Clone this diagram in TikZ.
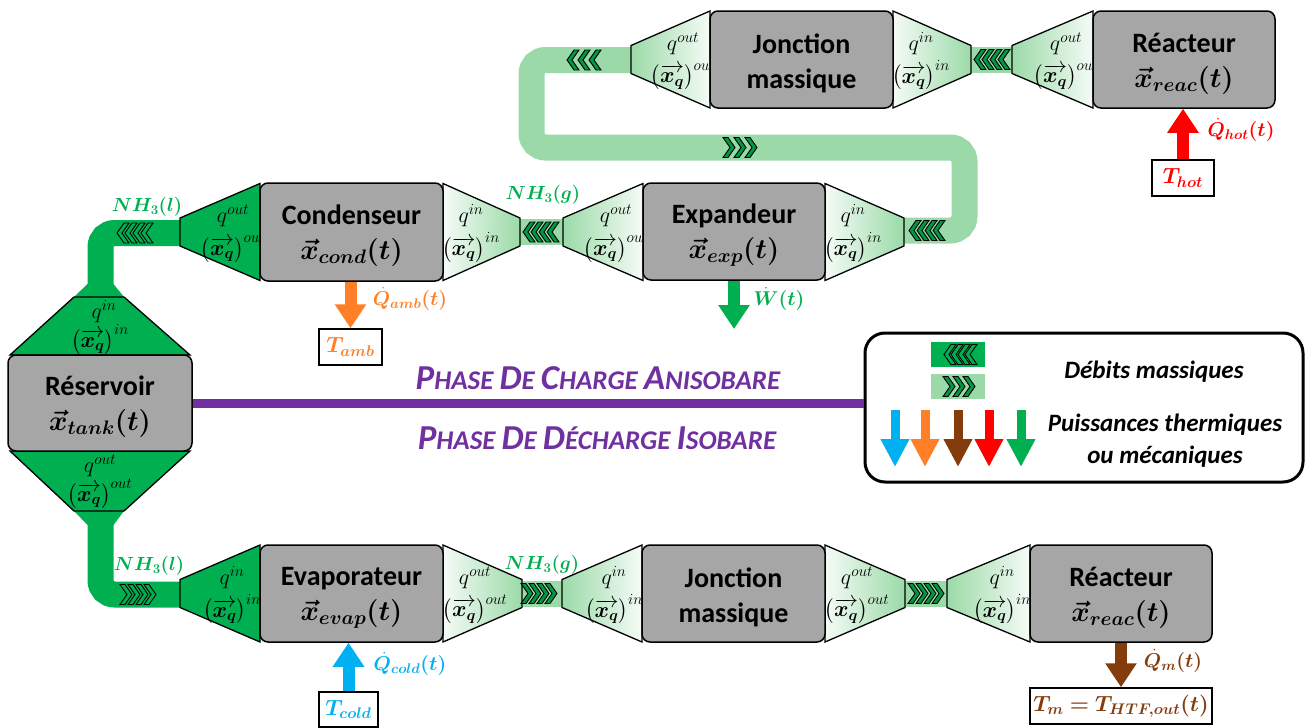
\RequirePackage{fix-cm}
\documentclass[tikz,border=0pt]{standalone}
\usepackage{amsmath}
\usepackage{bm}
\usepackage{fontspec}
\setmainfont{Carlito}
\usetikzlibrary{arrows.meta}
\definecolor{G}{RGB}{0,176,80}
\definecolor{LG}{RGB}{155,218,168}
\definecolor{boxgray}{RGB}{166,166,166}
\definecolor{Org}{RGB}{255,127,39}
\definecolor{Blu}{RGB}{0,176,240}
\definecolor{Brn}{RGB}{132,60,12}
\definecolor{Rd}{RGB}{255,0,0}
\definecolor{Pur}{RGB}{112,48,160}
\tikzset{
  box/.style={draw=black, line width=1.5pt, fill=boxgray, rounded corners=8pt, inner sep=0pt, align=center, font=\fontsize{28}{35}\selectfont\bfseries},
  tbox/.style={draw=black, line width=1.5pt, fill=white, inner sep=0pt},
  pipeD/.style={draw=G, line width=26pt, rounded corners=14pt},
  pipeL/.style={draw=LG, line width=26pt, rounded corners=14pt},
  trapD/.style={fill=G, draw=black, line width=1.3pt},
  trapLn/.style={left color=LG, right color=LG!10!white, draw=black, line width=1.3pt},
  trapRn/.style={left color=LG!10!white, right color=LG, draw=black, line width=1.3pt},
  chevL/.style={fill=G!85!black, draw=black, line width=0.9pt},
  chevD/.style={fill=G, draw=black, line width=0.9pt},
  fat/.style={line width=12pt, -{Triangle[width=30pt,length=24pt]}},
  legarrow/.style={line width=9pt, -{Triangle[width=27pt,length=28pt]}},
  qlab/.style={font=\fontsize{22}{24}\selectfont, inner sep=0pt},
  flow/.style={font=\fontsize{19}{22}\selectfont, inner sep=0pt, text=G},
  powlab/.style={font=\fontsize{20}{22}\selectfont, inner sep=0pt},
  tlab/.style={font=\fontsize{22}{24}\selectfont},
}
% trapezoid: narrow x, wide x, centre y, style
\newcommand\trap[4]{\path[#4] (#1,{#3-14}) -- (#2,{#3-48.5}) -- (#2,{#3+48.5}) -- (#1,{#3+14}) -- cycle;}
% chevrons: x tip, y, count, dir (1 = <, -1 = >), spacing, style
\newcommand\chevs[6]{%
  \begin{scope}[shift={(#1,#2)},xscale=#4]
  \foreach \i in {1,...,#3}{\path[#6] ({(\i-1)*#5},0) -- ++(7,-10) -- ++(5,0) -- ++(-7,10) -- ++(7,10) -- ++(-5,0) -- cycle;}
  \end{scope}}
% trapezoid labels: name, x, y centre, superscript
\newcommand\tlabel[4]{%
  \node[qlab] (#1q) at (#2,{#3-16}) {$q^{#4}$};
  \node[qlab] (#1x) at (#2,{#3+16}) {$\big(\overrightarrow{\bm{x_q}}\big)^{#4}$};}
\newcommand\bs[2]{{\fontsize{35}{35}\selectfont #1}#2}
\newcommand\st{\rule{0pt}{27pt}}
\begin{document}
\begin{tikzpicture}[x=1pt,y=-1pt]
\useasboundingbox (0,0) rectangle (1310,728);
% ---------- pipes
\draw[pipeL] (903,230.5) -- (964.5,230.5) -- (964.5,147.5) -- (531.5,147.5) -- (531.5,60) -- (632,60);
\draw[pipeL, rounded corners=0pt] (970,59.5) -- (1013,59.5);
\draw[pipeL, rounded corners=0pt] (519,232) -- (564,232);
\draw[pipeL, rounded corners=0pt] (521,593.5) -- (563,593.5);
\draw[pipeL, rounded corners=0pt] (904,593.5) -- (948,593.5);
\draw[pipeD] (181,233) -- (100.5,233) -- (100.5,290);
\draw[pipeD] (100.5,505) -- (100.5,594.5) -- (181,594.5);
\fill[G] (87.5,284) -- (113.5,284) -- (124,297) -- (74,297) -- cycle;
\fill[G] (74,511) -- (124,511) -- (113.5,525) -- (87.5,525) -- cycle;
% ---------- reservoir trapezoids
\path[trapD] (74,297) -- (124,297) -- (190,355) -- (10,355) -- cycle;
\path[trapD] (10,451) -- (190,451) -- (124,511) -- (74,511) -- cycle;
% ---------- trapezoids
\trap{631}{710}{59.5}{trapLn}
\trap{971}{893}{59.5}{trapRn}
\trap{1012}{1093}{59.5}{trapLn}
\trap{180}{260}{232}{trapD}
\trap{520}{443}{232}{trapRn}
\trap{563}{643}{232}{trapLn}
\trap{904}{825}{232}{trapRn}
\trap{180}{260}{593.5}{trapD}
\trap{522}{443}{593.5}{trapRn}
\trap{562}{642}{593.5}{trapLn}
\trap{905}{825}{593.5}{trapRn}
\trap{947}{1030}{593.5}{trapLn}
% ---------- trapezoid labels
\tlabel{la}{683}{59.5}{out}
\tlabel{lb}{921}{59.5}{in}
\tlabel{lc}{1066}{59.5}{out}
\tlabel{ld}{233}{232}{out}
\tlabel{le}{471}{232}{in}
\tlabel{lf}{616}{232}{out}
\tlabel{lg}{853}{232}{in}
\tlabel{lh}{232}{593.5}{in}
\tlabel{li}{475}{593.5}{out}
\tlabel{lj}{614}{593.5}{in}
\tlabel{lk}{857}{593.5}{out}
\tlabel{ll}{1002}{593.5}{in}
\node[qlab] (rtq) at (104,312) {$q^{in}$};
\node[qlab] (rtx) at (100,340) {$\big(\overrightarrow{\bm{x_q}}\big)^{in}$};
\node[qlab] (rbq) at (100,466) {$q^{out}$};
\node[qlab] (rbx) at (100,494) {$\big(\overrightarrow{\bm{x_q}}\big)^{out}$};
% ---------- boxes
\node[box, minimum width=182pt, minimum height=97pt] (reacT) at (1184,59.5) {\st Réacteur\\$\bm{\vec{x}_{reac}(t)}$};
\node[box, minimum width=183pt, minimum height=97pt] (juncT) at (801.5,59.5) {\st Jonction\\massique};
\node[box, minimum width=183pt, minimum height=98pt] (cond) at (351.5,232) {\st Condenseur\\$\bm{\vec{x}_{cond}(t)}$};
\node[box, minimum width=182pt, minimum height=97pt] (exp) at (734,231.5) {\st Expandeur\\$\bm{\vec{x}_{exp}(t)}$};
\node[box, minimum width=184pt, minimum height=96pt] (res) at (100,403) {\st Réservoir\\$\bm{\vec{x}_{tank}(t)}$};
\node[box, minimum width=183pt, minimum height=97pt] (evap) at (351.5,593.5) {\st Evaporateur\\$\bm{\vec{x}_{evap}(t)}$};
\node[box, minimum width=183pt, minimum height=97pt] (juncB) at (733.5,593.5) {\st Jonction\\massique};
\node[box, minimum width=182pt, minimum height=97pt] (reacB) at (1121,593.5) {\st Réacteur\\$\bm{\vec{x}_{reac}(t)}$};
% ---------- chevrons
\chevs{567}{60}{3}{1}{11}{chevL}
\chevs{757}{147.5}{3}{-1}{11}{chevL}
\chevs{974}{59.5}{4}{1}{8}{chevL}
\chevs{523}{232}{4}{1}{8}{chevL}
\chevs{909}{230.5}{4}{1}{8}{chevL}
\chevs{117}{233}{4}{1}{8}{chevD}
\chevs{156}{594.5}{4}{-1}{8}{chevD}
\chevs{557}{593.5}{4}{-1}{8}{chevL}
\chevs{944}{593.5}{4}{-1}{8}{chevL}
% ---------- flow labels
\node[flow] (nh1) at (147,207) {$\bm{NH_3(l)}$};
\node[flow] (nh2) at (543,195) {$\bm{NH_3(g)}$};
\node[flow] (nh3) at (149,566) {$\bm{NH_3(l)}$};
\node[flow] (nh4) at (542,565) {$\bm{NH_3(g)}$};
% ---------- temperature boxes
\node[tbox, minimum width=62pt, minimum height=36pt, text=Rd, tlab] (Thot) at (1183,178) {$\bm{T_{hot}}$};
\node[tbox, minimum width=63pt, minimum height=36pt, text=Org, tlab] (Tamb) at (350.5,347) {$\bm{T_{amb}}$};
\node[tbox, minimum width=59pt, minimum height=35pt, text=Blu, tlab] (Tcold) at (348.5,709.5) {$\bm{T_{cold}}$};
\node[tbox, minimum width=182pt, minimum height=36pt, text=Brn, tlab] (Tm) at (1121,706) {$\bm{T_m = T_{HTF,out}(t)}$};
\coordinate (Wend) at (734,329);
% ---------- power arrows
\draw[fat, Rd] (Thot.north) -- (Thot.north |- reacT.south);
\draw[fat, Org] (cond.south -| Tamb.north) -- (Tamb.north);
\draw[fat, G] (exp.south) -- (Wend);
\draw[fat, Blu] (Tcold.north) -- (Tcold.north |- evap.south);
\draw[fat, Brn] (reacB.south) -- (Tm.north);
\node[powlab, text=Rd] (qhot) at (1241,130) {$\bm{\dot{Q}_{hot}(t)}$};
\node[powlab, text=Org] (qamb) at (410,299) {$\bm{\dot{Q}_{amb}(t)}$};
\node[powlab, text=G] (wdot) at (779,299) {$\bm{\dot{W}(t)}$};
\node[powlab, text=Blu] (qcold) at (410,664) {$\bm{\dot{Q}_{cold}(t)}$};
\node[powlab, text=Brn] (qm) at (1173,661) {$\bm{\dot{Q}_{m}(t)}$};
% ---------- legend
\node[draw=black, line width=3pt, rounded corners=20pt, minimum width=438pt, minimum height=149pt, fill=white] (legend) at (1084,407.5) {};
\draw[line width=9pt, Pur] (res.east) -- (res.east -| legend.west);
\node[fill=G, minimum width=54pt, minimum height=25pt, inner sep=0pt] (legD) at (958,354.5) {};
\node[fill=LG, minimum width=54pt, minimum height=25pt, inner sep=0pt] (legL) at (958,386.5) {};
\chevs{944}{354.5}{4}{1}{7}{chevD}
\chevs{975}{386.5}{3}{-1}{10}{chevL}
\draw[legarrow, Blu] (895,410) -- (895,467);
\draw[legarrow, Org] (925,410) -- (925,467);
\draw[legarrow, Brn] (958,410) -- (958,467);
\draw[legarrow, Rd] (989,410) -- (989,467);
\draw[legarrow, G] (1021,410) -- (1021,467);
\node[font=\fontsize{25}{32}\selectfont\bfseries\itshape, inner sep=0pt] (deb) at (1154,372) {Débits massiques};
\node[font=\fontsize{25}{32}\selectfont\bfseries\itshape, inner sep=0pt, align=center] (puis) at (1165,441) {Puissances thermiques\\ou mécaniques};
% ---------- phase texts
\node[font=\fontsize{27}{30}\selectfont\bfseries\itshape, text=Pur, inner sep=0pt] (ph1) at (598,378) {\bs{P}{HASE} \bs{D}{E} \bs{C}{HARGE} \bs{A}{NISOBARE}};
\node[font=\fontsize{27}{30}\selectfont\bfseries\itshape, text=Pur, inner sep=0pt] (ph2) at (597,438) {\bs{P}{HASE} \bs{D}{E} \bs{D}{ÉCHARGE} \bs{I}{SOBARE}};
\end{tikzpicture}
\end{document}
